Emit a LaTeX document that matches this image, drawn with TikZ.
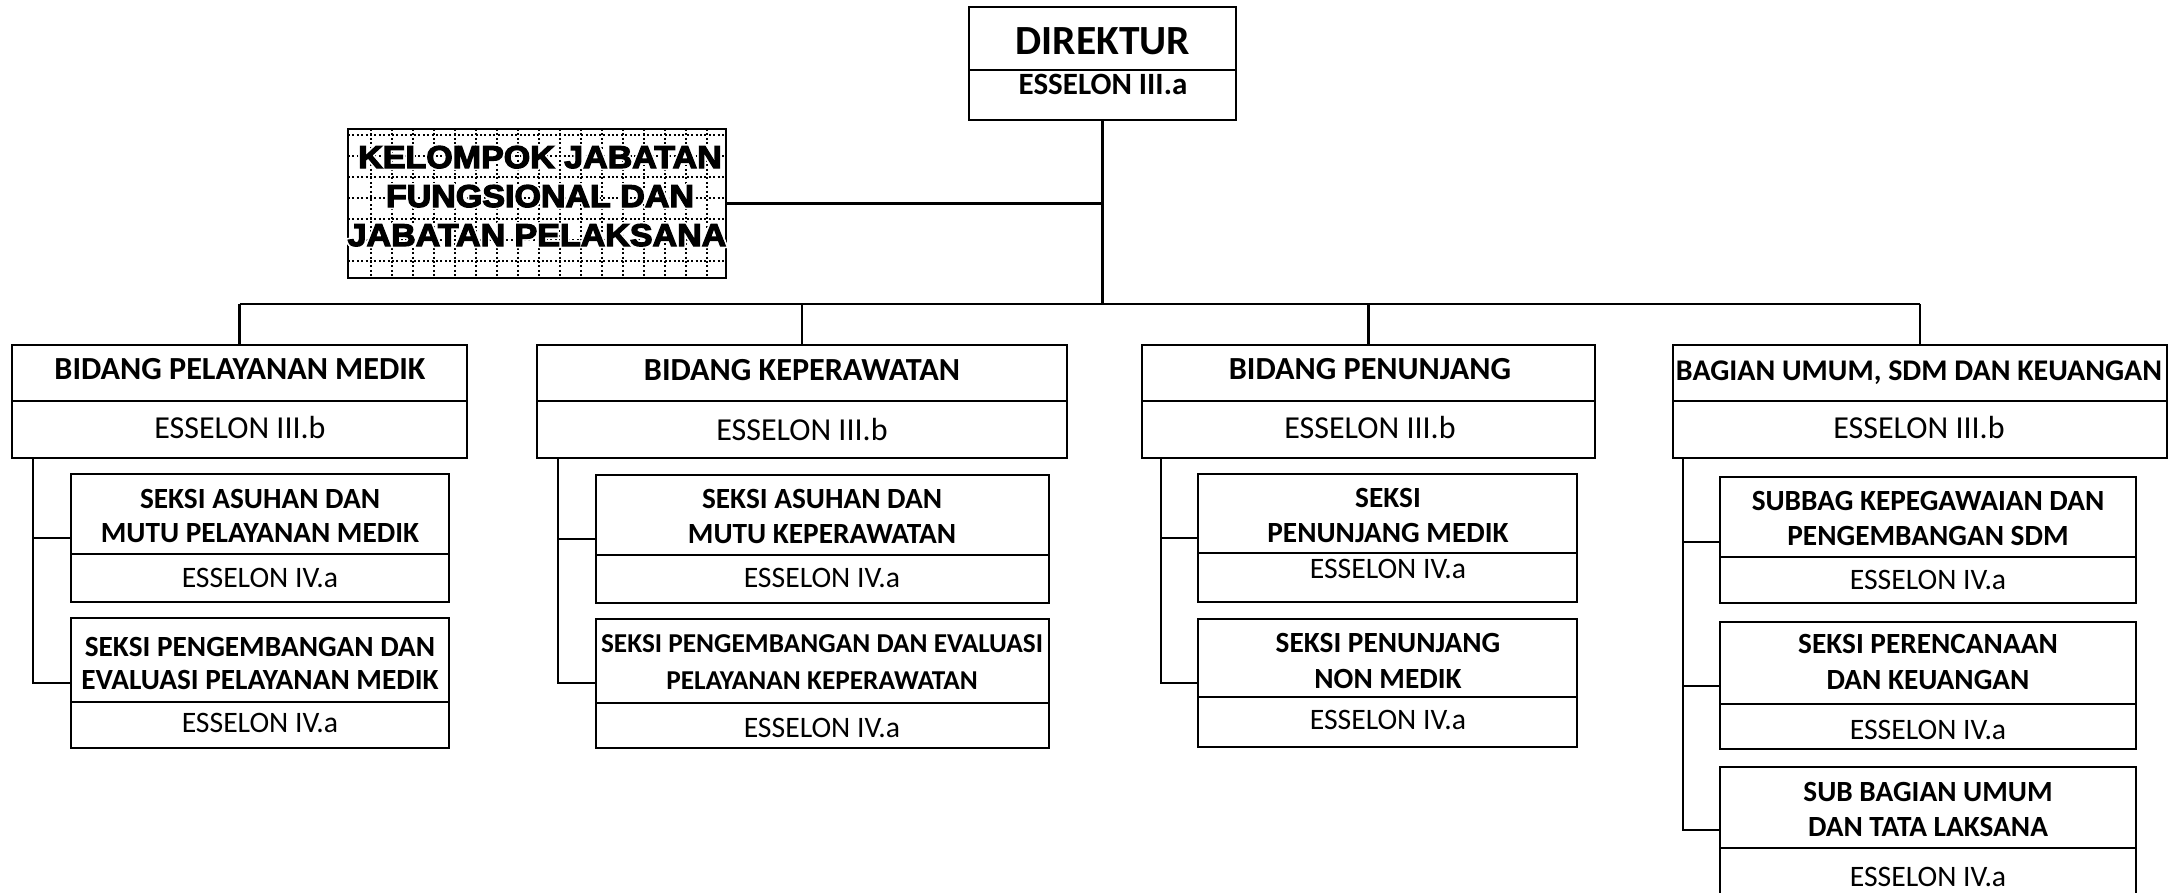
\documentclass[tikz,border=0pt]{standalone}
\usepackage{fontspec}
\setmainfont{Carlito}
\newfontfamily\kfont[FakeBold=4,FakeStretch=1.08]{Liberation Sans Bold}
\usepackage{contour}
\contourlength{1.6pt}
\begin{document}
\begin{tikzpicture}[x=1pt,y=-1pt,
  bx/.style={draw, line width=2.5pt, anchor=north west, inner sep=0pt, outer sep=0pt},
  ln/.style={line width=2.5pt},
  grd/.style={line width=1.4pt, dash pattern=on 2pt off 2.4pt},
  tdir/.style={font=\bfseries\fontsize{41.5}{44}\selectfont, anchor=base, inner sep=0pt},
  tes3a/.style={font=\bfseries\fontsize{31}{33}\selectfont, anchor=base, inner sep=0pt},
  tbid/.style={font=\bfseries\fontsize{32.2}{34}\selectfont, anchor=base, inner sep=0pt},
  tbag/.style={font=\bfseries\fontsize{30}{32}\selectfont, anchor=base, inner sep=0pt},
  tes3/.style={font=\fontsize{32}{34}\selectfont, anchor=base, inner sep=0pt},
  tsub/.style={font=\bfseries\fontsize{29.3}{31}\selectfont, anchor=base, inner sep=0pt},
  tsubs/.style={font=\bfseries\fontsize{27.3}{29}\selectfont, anchor=base, inner sep=0pt},
  tes4/.style={font=\fontsize{29.7}{31}\selectfont, anchor=base, inner sep=0pt},
  tkel/.style={font=\kfont\fontsize{31.5}{33}\selectfont, anchor=base, inner sep=0pt}]
\clip (0,0) rectangle (2176,892);
\fill[white] (0,0) rectangle (2176,892);

% ---- DIREKTUR ----
\node[bx, minimum width=267pt, minimum height=63pt] (dirt) at (969,7) {};
\node[bx, minimum width=267pt, minimum height=50pt] (dirl) at (969,70) {};
\node[tdir] (dirtx) at (1103,54) {DIREKTUR};
\node[tes3a] (dirlx) at (1103,94) {ESSELON III.a};

% ---- KELOMPOK ----
\node[bx, minimum width=378pt, minimum height=149pt] (kel) at (348,129) {};
\begin{scope}
  \clip (kel.south west) rectangle (kel.north east);
  \foreach \gx in {371,392,...,720} { \draw[grd] (\gx,129) -- (\gx,278); }
  \foreach \gy in {135,156,...,278} { \draw[grd] (348,\gy) -- (726,\gy); }
\end{scope}
\node[bx, minimum width=378pt, minimum height=149pt] (kelb) at (348,129) {};
\node[tkel] (kel1) at (540,168) {\contour{white}{KELOMPOK JABATAN}};
\node[tkel] (kel2) at (540,207) {\contour{white}{FUNGSIONAL DAN}};
\node[tkel] (kel3) at (537,246) {\contour{white}{JABATAN PELAKSANA}};

% ---- BIDANG boxes ----
\node[bx, minimum width=455pt, minimum height=56pt] (b1t) at (12,345) {};
\node[bx, minimum width=455pt, minimum height=57pt] (b1l) at (12,401) {};
\node[bx, minimum width=530pt, minimum height=56pt] (b2t) at (537,345) {};
\node[bx, minimum width=530pt, minimum height=57pt] (b2l) at (537,401) {};
\node[bx, minimum width=453pt, minimum height=56pt] (b3t) at (1142,345) {};
\node[bx, minimum width=453pt, minimum height=57pt] (b3l) at (1142,401) {};
\node[bx, minimum width=494pt, minimum height=56pt] (b4t) at (1673,345) {};
\node[bx, minimum width=494pt, minimum height=57pt] (b4l) at (1673,401) {};

\node[tbid] (b1tx) at (240,379) {BIDANG PELAYANAN MEDIK};
\node[tes3] (b1lx) at (240,438) {ESSELON III.b};
\node[tbid] (b2tx) at (802,380) {BIDANG KEPERAWATAN};
\node[tes3] (b2lx) at (802,440) {ESSELON III.b};
\node[tbid] (b3tx) at (1370,379) {BIDANG PENUNJANG};
\node[tes3] (b3lx) at (1370,438) {ESSELON III.b};
\node[tbag] (b4tx) at (1919,380) {BAGIAN UMUM, SDM DAN KEUANGAN};
\node[tes3] (b4lx) at (1919,438) {ESSELON III.b};

% ---- SEKSI boxes column 1 ----
\node[bx, minimum width=378pt, minimum height=80pt] (s11t) at (71,474) {};
\node[bx, minimum width=378pt, minimum height=48pt] (s11l) at (71,554) {};
\node[bx, minimum width=378pt, minimum height=84pt] (s12t) at (71,618) {};
\node[bx, minimum width=378pt, minimum height=46pt] (s12l) at (71,702) {};
\node[tsub] (s11a) at (260,508) {SEKSI ASUHAN DAN};
\node[tsub] (s11b) at (260,542) {MUTU PELAYANAN MEDIK};
\node[tes4] (s11x) at (260,587) {ESSELON IV.a};
\node[tsub] (s12a) at (260,656) {SEKSI PENGEMBANGAN DAN};
\node[tsub] (s12b) at (260,689) {EVALUASI PELAYANAN MEDIK};
\node[tes4] (s12x) at (260,732) {ESSELON IV.a};

% ---- column 2 ----
\node[bx, minimum width=453pt, minimum height=80pt] (s21t) at (596,475) {};
\node[bx, minimum width=453pt, minimum height=48pt] (s21l) at (596,555) {};
\node[bx, minimum width=453pt, minimum height=84pt] (s22t) at (596,619) {};
\node[bx, minimum width=453pt, minimum height=45pt] (s22l) at (596,703) {};
\node[tsub] (s21a) at (822,508) {SEKSI ASUHAN DAN};
\node[tsub] (s21b) at (822,543) {MUTU KEPERAWATAN};
\node[tes4] (s21x) at (822,587) {ESSELON IV.a};
\node[tsubs] (s22a) at (822,652) {SEKSI PENGEMBANGAN DAN EVALUASI};
\node[tsubs] (s22b) at (822,689) {PELAYANAN KEPERAWATAN};
\node[tes4] (s22x) at (822,737) {ESSELON IV.a};

% ---- column 3 ----
\node[bx, minimum width=379pt, minimum height=79pt] (s31t) at (1198,474) {};
\node[bx, minimum width=379pt, minimum height=49pt] (s31l) at (1198,553) {};
\node[bx, minimum width=379pt, minimum height=78pt] (s32t) at (1198,619) {};
\node[bx, minimum width=379pt, minimum height=50pt] (s32l) at (1198,697) {};
\node[tsub] (s31a) at (1388,507) {SEKSI};
\node[tsub] (s31b) at (1388,542) {PENUNJANG MEDIK};
\node[tes4] (s31x) at (1388,578) {ESSELON IV.a};
\node[tsub] (s32a) at (1388,652) {SEKSI PENUNJANG};
\node[tsub] (s32b) at (1388,688) {NON MEDIK};
\node[tes4] (s32x) at (1388,729) {ESSELON IV.a};

% ---- column 4 ----
\node[bx, minimum width=416pt, minimum height=80pt] (s41t) at (1720,477) {};
\node[bx, minimum width=416pt, minimum height=46pt] (s41l) at (1720,557) {};
\node[bx, minimum width=416pt, minimum height=82pt] (s42t) at (1720,622) {};
\node[bx, minimum width=416pt, minimum height=45pt] (s42l) at (1720,704) {};
\node[bx, minimum width=416pt, minimum height=81pt] (s43t) at (1720,767) {};
\node[bx, minimum width=416pt, minimum height=70pt] (s43l) at (1720,848) {};
\node[tsub] (s41a) at (1928,510) {SUBBAG KEPEGAWAIAN DAN};
\node[tsub] (s41b) at (1928,545) {PENGEMBANGAN SDM};
\node[tes4] (s41x) at (1928,589) {ESSELON IV.a};
\node[tsub] (s42a) at (1928,653) {SEKSI PERENCANAAN};
\node[tsub] (s42b) at (1928,689) {DAN KEUANGAN};
\node[tes4] (s42x) at (1928,739) {ESSELON IV.a};
\node[tsub] (s43a) at (1928,801) {SUB BAGIAN UMUM};
\node[tsub] (s43b) at (1928,836) {DAN TATA LAKSANA};
\node[tes4] (s43x) at (1928,886) {ESSELON IV.a};

% ---- connectors ----
\coordinate (busy) at (0,304);
\coordinate (trunk) at (dirl.south |- busy);
\draw[ln] (dirl.south) -- (trunk);
\draw[ln] (kel.east) -- (kel.east -| trunk);
\draw[ln] (b1t.north |- busy) -- (b4t.north |- busy);
\draw[ln] (b1t.north |- busy) -- (b1t.north);
\draw[ln] (b2t.north |- busy) -- (b2t.north);
\draw[ln] (b3t.north |- busy) -- (b3t.north);
\draw[ln] (b4t.north |- busy) -- (b4t.north);

\coordinate (k1a) at (33,538);
\coordinate (k1b) at (33,683);
\draw[ln] (b1l.south -| k1a) -- (k1b) -- (k1b -| s12t.west);
\draw[ln] (k1a) -- (k1a -| s11t.west);

\coordinate (k2a) at (558,539);
\coordinate (k2b) at (558,683);
\draw[ln] (b2l.south -| k2a) -- (k2b) -- (k2b -| s22t.west);
\draw[ln] (k2a) -- (k2a -| s21t.west);

\coordinate (k3a) at (1161,538);
\coordinate (k3b) at (1161,683);
\draw[ln] (b3l.south -| k3a) -- (k3b) -- (k3b -| s32t.west);
\draw[ln] (k3a) -- (k3a -| s31t.west);

\coordinate (k4a) at (1683,542);
\coordinate (k4b) at (1683,686);
\coordinate (k4c) at (1683,830);
\draw[ln] (b4l.south -| k4a) -- (k4c) -- (k4c -| s43t.west);
\draw[ln] (k4a) -- (k4a -| s41t.west);
\draw[ln] (k4b) -- (k4b -| s42t.west);
\end{tikzpicture}
\end{document}
